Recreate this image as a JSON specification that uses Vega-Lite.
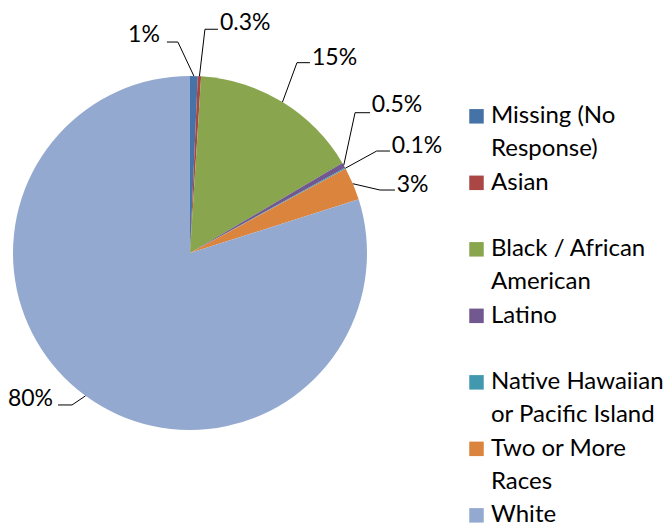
{
  "$schema": "https://vega.github.io/schema/vega-lite/v6.json",
  "padding": 0,
  "background": "white",
  "bounds": "flush",
  "spacing": 82,
  "config": {"view": {"stroke": null}, "text": {"font": "Lato", "fontSize": 23, "color": "#000000"}},
  "data": {"values": [
    {"idx": 1, "category": "Missing (No\nResponse)", "value": 0.7, "label": "1%"},
    {"idx": 2, "category": "Asian", "value": 0.3, "label": "0.3%"},
    {"idx": 3, "category": "Black / African\nAmerican", "value": 15.5, "label": "15%"},
    {"idx": 4, "category": "Latino", "value": 0.5, "label": "0.5%"},
    {"idx": 5, "category": "Native Hawaiian\nor Pacific Island", "value": 0.1, "label": "0.1%"},
    {"idx": 6, "category": "Two or More\nRaces", "value": 3.0, "label": "3%"},
    {"idx": 7, "category": "White", "value": 79.9, "label": "80%"}
  ]},
  "hconcat": [
    {
      "width": 380,
      "height": 506,
      "layer": [
        {
          "mark": {"type": "arc", "outerRadius": 177},
          "encoding": {
            "theta": {"field": "value", "type": "quantitative", "stack": true},
            "order": {"field": "idx", "type": "quantitative"},
            "color": {"field": "category", "type": "nominal", "legend": null,
              "scale": {"domain": ["Missing (No\nResponse)", "Asian", "Black / African\nAmerican", "Latino", "Native Hawaiian\nor Pacific Island", "Two or More\nRaces", "White"],
                        "range": ["#4572A7", "#AA4643", "#89A54E", "#71588F", "#4198AF", "#DB843D", "#93A9CF"]}}
          }
        },
        {
          "transform": [
            {"window": [{"op": "sum", "field": "value", "as": "cum"}], "sort": [{"field": "idx"}]},
            {"joinaggregate": [{"op": "sum", "field": "value", "as": "total"}]},
            {"calculate": "2 * PI * (datum.cum - datum.value / 2) / datum.total", "as": "ang"},
            {"calculate": "sin(datum.ang)", "as": "ex"},
            {"calculate": "cos(datum.ang)", "as": "ey"}
          ],
          "encoding": {
            "x": {"field": "ex", "type": "quantitative", "axis": null, "scale": {"domain": [-1.07345, 1.07345], "nice": false, "zero": false}},
            "y": {"field": "ey", "type": "quantitative", "axis": null, "scale": {"domain": [-1.42938, 1.42938], "nice": false, "zero": false}}
          },
          "layer": [
            {
              "transform": [{"filter": "datum.idx === 1"}],
              "layer": [
                {"mark": {"type": "rule", "color": "#000", "strokeWidth": 1, "x2Offset": -16, "y2Offset": -34}, "encoding": {"x2": {"field": "ex"}, "y2": {"field": "ey"}}},
                {"mark": {"type": "rule", "color": "#000", "strokeWidth": 1, "xOffset": -16, "yOffset": -34, "x2Offset": -27, "y2Offset": -34}, "encoding": {"x2": {"field": "ex"}, "y2": {"field": "ey"}}},
                {"mark": {"type": "text", "align": "right", "baseline": "alphabetic", "dx": -34, "dy": -34}, "encoding": {"text": {"field": "label"}}}
              ]
            },
            {
              "transform": [{"filter": "datum.idx === 2"}],
              "layer": [
                {"mark": {"type": "rule", "color": "#000", "strokeWidth": 1, "x2Offset": 5.5, "y2Offset": -47}, "encoding": {"x2": {"field": "ex"}, "y2": {"field": "ey"}}},
                {"mark": {"type": "rule", "color": "#000", "strokeWidth": 1, "xOffset": 5.5, "yOffset": -47, "x2Offset": 18.5, "y2Offset": -47}, "encoding": {"x2": {"field": "ex"}, "y2": {"field": "ey"}}},
                {"mark": {"type": "text", "align": "left", "baseline": "alphabetic", "dx": 20.5, "dy": -46}, "encoding": {"text": {"field": "label"}}}
              ]
            },
            {
              "transform": [{"filter": "datum.idx === 3"}],
              "layer": [
                {"mark": {"type": "rule", "color": "#000", "strokeWidth": 1, "x2Offset": 14.5, "y2Offset": -39.4}, "encoding": {"x2": {"field": "ex"}, "y2": {"field": "ey"}}},
                {"mark": {"type": "rule", "color": "#000", "strokeWidth": 1, "xOffset": 14.5, "yOffset": -39.4, "x2Offset": 27.5, "y2Offset": -39.4}, "encoding": {"x2": {"field": "ex"}, "y2": {"field": "ey"}}},
                {"mark": {"type": "text", "align": "left", "baseline": "alphabetic", "dx": 29.5, "dy": -37}, "encoding": {"text": {"field": "label"}}}
              ]
            },
            {
              "transform": [{"filter": "datum.idx === 4"}],
              "layer": [
                {"mark": {"type": "rule", "color": "#000", "strokeWidth": 1, "x2Offset": 11.3, "y2Offset": -52.6}, "encoding": {"x2": {"field": "ex"}, "y2": {"field": "ey"}}},
                {"mark": {"type": "rule", "color": "#000", "strokeWidth": 1, "xOffset": 11.3, "yOffset": -52.6, "x2Offset": 26.3, "y2Offset": -52.6}, "encoding": {"x2": {"field": "ex"}, "y2": {"field": "ey"}}},
                {"mark": {"type": "text", "align": "left", "baseline": "alphabetic", "dx": 28, "dy": -53.6}, "encoding": {"text": {"field": "label"}}}
              ]
            },
            {
              "transform": [{"filter": "datum.idx === 5"}],
              "layer": [
                {"mark": {"type": "rule", "color": "#000", "strokeWidth": 1, "x2Offset": 31.3, "y2Offset": -17.2}, "encoding": {"x2": {"field": "ex"}, "y2": {"field": "ey"}}},
                {"mark": {"type": "rule", "color": "#000", "strokeWidth": 1, "xOffset": 31.3, "yOffset": -17.2, "x2Offset": 44.6, "y2Offset": -17.2}, "encoding": {"x2": {"field": "ex"}, "y2": {"field": "ey"}}},
                {"mark": {"type": "text", "align": "left", "baseline": "alphabetic", "dx": 46.3, "dy": -15.2}, "encoding": {"text": {"field": "label"}}}
              ]
            },
            {
              "transform": [{"filter": "datum.idx === 6"}],
              "layer": [
                {"mark": {"type": "rule", "color": "#000", "strokeWidth": 1, "x2Offset": 27.1, "y2Offset": 6.3}, "encoding": {"x2": {"field": "ex"}, "y2": {"field": "ey"}}},
                {"mark": {"type": "rule", "color": "#000", "strokeWidth": 1, "xOffset": 27.1, "yOffset": 6.3, "x2Offset": 42.1, "y2Offset": 6.3}, "encoding": {"x2": {"field": "ex"}, "y2": {"field": "ey"}}},
                {"mark": {"type": "text", "align": "left", "baseline": "alphabetic", "dx": 43.8, "dy": 8}, "encoding": {"text": {"field": "label"}}}
              ]
            },
            {
              "transform": [{"filter": "datum.idx === 7"}],
              "layer": [
                {"mark": {"type": "rule", "color": "#000", "strokeWidth": 1, "x2Offset": -13.5, "y2Offset": 9.1}, "encoding": {"x2": {"field": "ex"}, "y2": {"field": "ey"}}},
                {"mark": {"type": "rule", "color": "#000", "strokeWidth": 1, "xOffset": -13.5, "yOffset": 9.1, "x2Offset": -27.5, "y2Offset": 9.1}, "encoding": {"x2": {"field": "ex"}, "y2": {"field": "ey"}}},
                {"mark": {"type": "text", "align": "right", "baseline": "alphabetic", "dx": -32.5, "dy": 10}, "encoding": {"text": {"field": "label"}}}
              ]
            }
          ]
        }
      ]
    },
    {
      "width": 29,
      "height": 527,
      "encoding": {
        "y": {"field": "category", "type": "nominal", "axis": null,
              "sort": ["Missing (No\nResponse)", "Asian", "Black / African\nAmerican", "Latino", "Native Hawaiian\nor Pacific Island", "Two or More\nRaces", "White"],
              "scale": {"type": "point", "padding": 0.962, "align": 0.909}}
      },
      "layer": [
        {
          "mark": {"type": "point", "shape": "square", "filled": true, "size": 210, "opacity": 1, "strokeWidth": 0},
          "encoding": {
            "color": {"field": "category", "type": "nominal", "legend": null,
              "scale": {"domain": ["Missing (No\nResponse)", "Asian", "Black / African\nAmerican", "Latino", "Native Hawaiian\nor Pacific Island", "Two or More\nRaces", "White"],
                        "range": ["#4572A7", "#AA4643", "#89A54E", "#71588F", "#4198AF", "#DB843D", "#93A9CF"]}}
          }
        },
        {
          "mark": {"type": "text", "align": "left", "baseline": "alphabetic", "dx": 14.5, "dy": 7, "lineBreak": "\n", "lineHeight": 33, "fontSize": 24},
          "encoding": {"text": {"field": "category"}}
        }
      ]
    }
  ]
}
